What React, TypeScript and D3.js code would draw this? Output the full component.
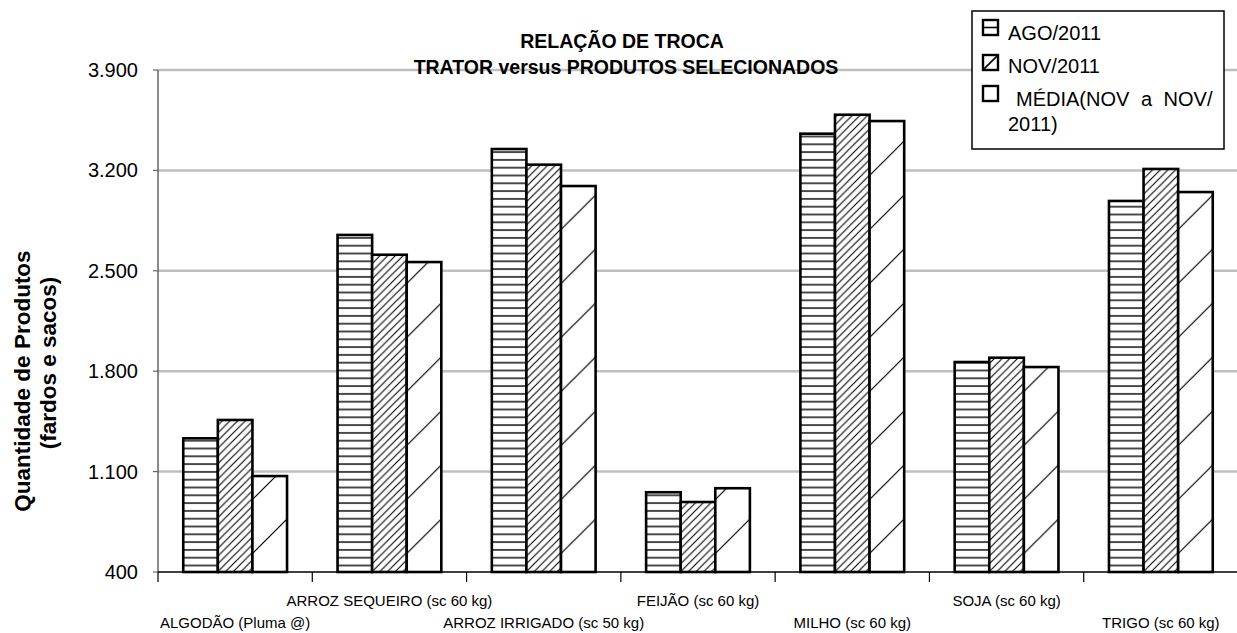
import React from "react";
import * as d3 from "d3";

const categories = [
  "ALGODÃO (Pluma @)",
  "ARROZ SEQUEIRO (sc 60 kg)",
  "ARROZ IRRIGADO (sc 50 kg)",
  "FEIJÃO (sc 60 kg)",
  "MILHO (sc 60 kg)",
  "SOJA (sc 60 kg)",
  "TRIGO (sc 60 kg)",
];
const ago2011 = [1332, 2750, 3349, 956, 3456, 1864, 2987];
const nov2011 = [1460, 2612, 3240, 888, 3588, 1894, 3210];
const mediaNovNov = [1069, 2561, 3091, 984, 3544, 1829, 3049];
const seriesKeys = ["ago", "nov", "media"];
const seriesLabels = ["AGO/2011", "NOV/2011", "MÉDIA(NOV a NOV/"];
const yTicks = [400, 1100, 1800, 2500, 3200, 3900];
const titleLines = ["RELAÇÃO DE TROCA", "TRATOR versus PRODUTOS SELECIONADOS"];
const yTitleLines = ["Quantidade de Produtos", "(fardos e sacos)"];

const W = 1237;
const H = 633;
const FONT = "'Liberation Sans', Arial, Helvetica, sans-serif";

const locale = d3.formatLocale({ decimal: ",", thousands: ".", grouping: [3], currency: ["R$", ""] });
const fmt = locale.format(",d");

export default function App() {
  const x0 = d3.scaleBand<string>().domain(categories).range([158, 1238]).paddingInner(0).paddingOuter(0);
  const x1 = d3
    .scaleBand<string>()
    .domain(seriesKeys)
    .range([0, x0.bandwidth()])
    .paddingInner(0)
    .paddingOuter(0.73);
  const y = d3.scaleLinear().domain([400, 3900]).range([572, 70]);

  const seriesData: Record<string, number[]> = { ago: ago2011, nov: nov2011, media: mediaNovNov };
  const fills: Record<string, string> = { ago: "url(#hpat)", nov: "url(#dpat)", media: "url(#spat)" };
  const legendFills: Record<string, string> = { ago: "url(#hpatL)", nov: "url(#dpatL)", media: "#fff" };

  const catBounds = categories.map((c) => x0(c) as number).concat([x0.range()[1]]);

  return (
    <svg
      width={W}
      height={H}
      style={{ position: "absolute", left: 0, top: 0, background: "#fff", fontFamily: FONT }}
    >
      <defs>
        <pattern id="hpat" patternUnits="userSpaceOnUse" width={10} height={7.8}>
          <rect width={10} height={7.8} fill="#fff" />
          <line x1={0} x2={10} y1={3.9} y2={3.9} stroke="#000" strokeWidth={1.4} />
        </pattern>
        <pattern id="dpat" patternUnits="userSpaceOnUse" width={7.7} height={7.7}>
          <rect width={7.7} height={7.7} fill="#fff" />
          <path d="M0,7.7 L7.7,0 M-2,2 L2,-2 M5.7,9.7 L9.7,5.7" stroke="#000" strokeWidth={1.1} />
        </pattern>
        <pattern id="spat" patternUnits="userSpaceOnUse" width={54} height={54}>
          <rect width={54} height={54} fill="#fff" />
          <path d="M0,54 L54,0 M-4,4 L4,-4 M50,58 L58,50" stroke="#000" strokeWidth={1.2} />
        </pattern>
        <pattern id="hpatL" patternUnits="userSpaceOnUse" x={983} y={20} width={15} height={15}>
          <rect width={15} height={15} fill="#fff" />
          <line x1={0} x2={15} y1={7.5} y2={7.5} stroke="#000" strokeWidth={1.6} />
        </pattern>
        <pattern id="dpatL" patternUnits="userSpaceOnUse" x={983} y={55} width={15} height={15}>
          <rect width={15} height={15} fill="#fff" />
          <path d="M0,15 L15,0" stroke="#000" strokeWidth={1.6} />
        </pattern>
      </defs>

      {/* gridlines */}
      {yTicks.slice(1).map((t) => (
        <line key={t} x1={158} x2={1238} y1={y(t)} y2={y(t)} stroke="#bfbfbf" strokeWidth={2.5} />
      ))}

      {/* y axis */}
      <line x1={158} x2={158} y1={y(3900)} y2={y(400)} stroke="#666" strokeWidth={1.5} />
      {yTicks.map((t) => (
        <g key={t}>
          <line x1={153} x2={158} y1={y(t)} y2={y(t)} stroke="#666" strokeWidth={1.2} />
          <text x={138} y={y(t)} dy="0.35em" textAnchor="end" fontSize={20} fill="#000">
            {fmt(t)}
          </text>
        </g>
      ))}

      {/* bars */}
      {categories.map((c, i) => (
        <g key={c} transform={`translate(${x0(c)},0)`}>
          {seriesKeys.map((k) => {
            const v = seriesData[k][i];
            return (
              <rect
                key={k}
                x={x1(k)}
                y={y(v)}
                width={x1.bandwidth()}
                height={y(400) - y(v)}
                fill={fills[k]}
                stroke="#000"
                strokeWidth={2.6}
              />
            );
          })}
        </g>
      ))}

      {/* x axis */}
      <line x1={158} x2={1238} y1={y(400)} y2={y(400)} stroke="#000" strokeWidth={1.5} />
      {catBounds.map((b, i) => (
        <line key={i} x1={b} x2={b} y1={y(400)} y2={y(400) + 10} stroke="#000" strokeWidth={1.2} />
      ))}
      {categories.map((c, i) => (
        <text
          key={c}
          x={(x0(c) as number) + x0.bandwidth() / 2}
          y={i % 2 === 0 ? 628 : 606}
          textAnchor="middle"
          fontSize={15}
          fill="#000"
        >
          {c}
        </text>
      ))}

      {/* title */}
      <text x={622} y={48} textAnchor="middle" fontSize={19.5} fontWeight="bold" fill="#000">
        {titleLines[0]}
      </text>
      <text x={626} y={74} textAnchor="middle" fontSize={19.5} fontWeight="bold" fill="#000">
        {titleLines[1]}
      </text>

      {/* y title */}
      <text transform="translate(30,381) rotate(-90)" textAnchor="middle" fontSize={22.5} fontWeight="bold" fill="#000">
        {yTitleLines[0]}
      </text>
      <text transform="translate(56,363) rotate(-90)" textAnchor="middle" fontSize={22.5} fontWeight="bold" fill="#000">
        {yTitleLines[1]}
      </text>

      {/* legend */}
      <rect x={972} y={11} width={252} height={138} fill="#fff" stroke="#000" strokeWidth={1.5} />
      {seriesKeys.map((k, i) => {
        const sy = [20, 55, 86][i];
        const ty = [40, 73, 106][i];
        return (
          <g key={k}>
            <rect x={983} y={sy} width={15} height={15} fill={legendFills[k]} stroke="#000" strokeWidth={2.4} />
            <text x={i === 2 ? 1016 : 1008} y={ty} fontSize={20} fill="#000" wordSpacing={i === 2 ? 6 : 0}>
              {seriesLabels[i]}
            </text>
          </g>
        );
      })}
      <text x={1008} y={131} fontSize={20} fill="#000">
        2011)
      </text>
    </svg>
  );
}
